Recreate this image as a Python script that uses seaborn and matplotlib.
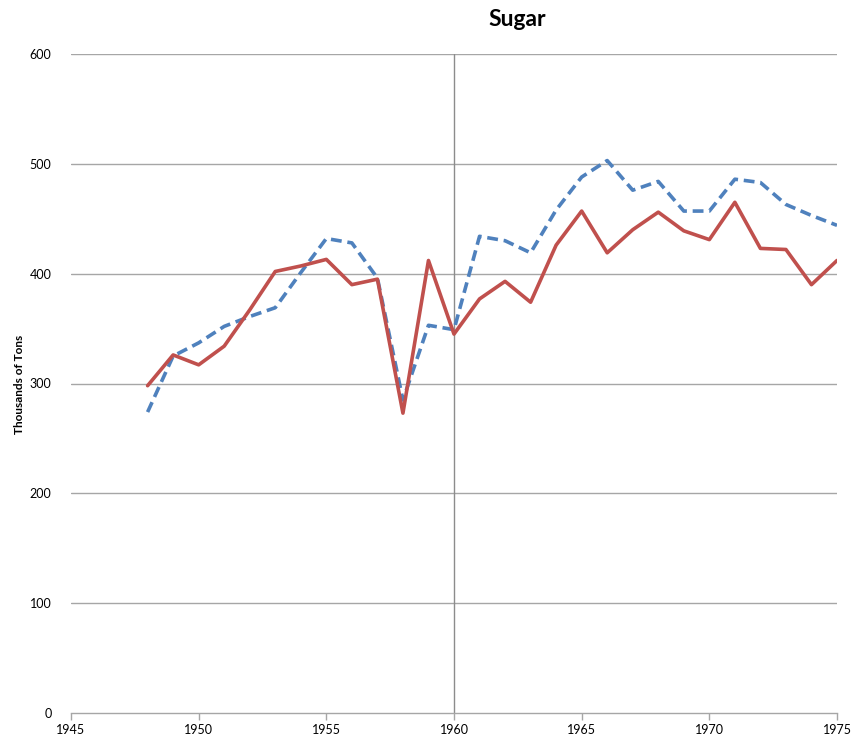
import matplotlib
matplotlib.use("Agg")
import matplotlib.pyplot as plt
import seaborn as sns
import pandas as pd

years = list(range(1948, 1976))
series_blue = [274, 325, 337, 352, 361, 369, 401, 432, 428, 396, 285, 353,
               349, 434, 430, 419, 458, 488, 503, 476, 484, 457, 457, 486,
               483, 463, 453, 444]
series_red = [298, 326, 317, 334, 367, 402, 407, 413, 390, 395, 273, 412,
              345, 377, 393, 374, 426, 457, 419, 440, 456, 439, 431, 465,
              423, 422, 390, 412]
title = "Sugar"
ylabel = "Thousands of Tons"
xticks = [1945, 1950, 1955, 1960, 1965, 1970, 1975]
yticks = [0, 100, 200, 300, 400, 500, 600]

sns.set_style("white")
plt.rcParams['font.family'] = ['Lato', 'DejaVu Sans']
plt.rcParams['text.color'] = 'black'
plt.rcParams['xtick.labelcolor'] = 'black'
plt.rcParams['ytick.labelcolor'] = 'black'

df_blue = pd.DataFrame({"year": years, "value": series_blue})
df_red = pd.DataFrame({"year": years, "value": series_red})

fig = plt.figure(figsize=(8.56, 7.44), dpi=100)
ax = fig.add_axes([71/856, 1 - 713/744, (837-71)/856, (713-54)/744])

grid_c = "#a6a6a6"
for y in yticks[1:]:
    ax.axhline(y, color=grid_c, lw=1.0, zorder=0)
ax.axvline(1960, color="#8c8c8c", lw=1.0, zorder=0)

sns.lineplot(data=df_blue, x="year", y="value", ax=ax, color="#4F81BD",
             lw=2.6, linestyle=(0, (3, 1.6)), zorder=3)
sns.lineplot(data=df_red, x="year", y="value", ax=ax, color="#C0504D",
             lw=2.6, zorder=4)

ax.set_xlim(1945, 1975)
ax.set_ylim(0, 600)
ax.set_xticks(xticks)
ax.set_yticks(yticks)
ax.tick_params(axis='x', direction='out', length=5, width=1, color=grid_c,
               labelsize=9, pad=3, bottom=True, labelcolor='black')
ax.tick_params(axis='y', length=0, labelsize=9, pad=14, labelcolor='black')
for s in ["top", "right", "left"]:
    ax.spines[s].set_visible(False)
ax.spines["bottom"].set_color(grid_c)
ax.spines["bottom"].set_linewidth(1.0)
ax.set_xlabel("")
ax.set_ylabel("")

fig.text(517/856, 1 - 20/744, title, ha="center", va="center",
         fontsize=16.5, fontweight="bold", color="black")
fig.text(20/856, 1 - 384/744, ylabel, ha="center", va="center",
         rotation=90, fontsize=8.5, fontweight="bold", color="black")

fig.savefig("out.png", dpi=100)
